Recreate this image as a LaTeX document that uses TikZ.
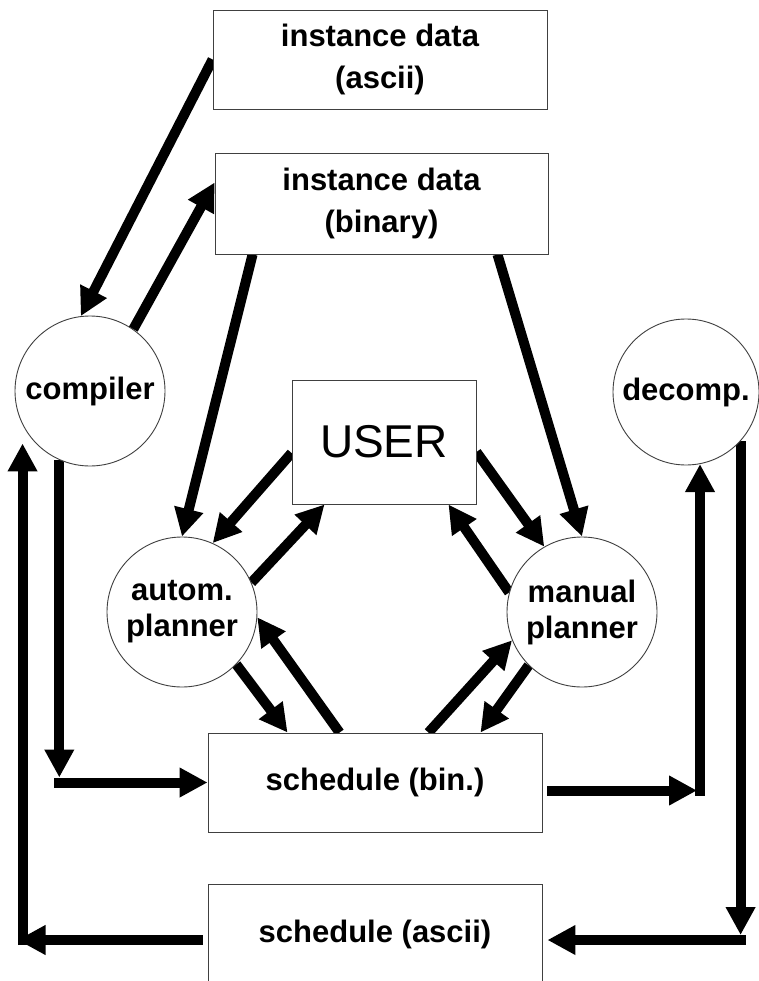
\documentclass[tikz,border=0pt]{standalone}
\usepackage{fontspec}
\setmainfont{Liberation Sans}
\usetikzlibrary{arrows.meta,calc}
\pgfdeclarelayer{bg}
\pgfsetlayers{bg,main}
\begin{document}
\begin{tikzpicture}[x=1pt,y=-1pt,
  box/.style={draw=black!75, fill=white, line width=0.9pt, rectangle, inner sep=0pt, align=center,
    font=\bfseries\fontsize{31}{42}\selectfont},
  proc/.style={draw=black!75, fill=white, line width=0.9pt, circle, inner sep=0pt, align=center,
    font=\bfseries\fontsize{31}{36}\selectfont},
  arr/.style={line width=10pt, -{Triangle[length=28pt,width=28pt]}}]
\useasboundingbox (0,0) rectangle (758,981);
% nodes
\node[box, minimum width=334pt, minimum height=99pt] (ascii) at (380,59.5) {instance data\\(ascii)};
\node[box, minimum width=333pt, minimum height=101pt] (bin) at (381.5,203.5) {instance data\\(binary)};
\node[box, minimum width=184pt, minimum height=124pt, font=\fontsize{46}{50}\selectfont] (user) at (384,442) {USER};
\node[box, minimum width=334pt, minimum height=99pt] (sbin) at (375,782.5) {schedule (bin.)};
\node[box, minimum width=334pt, minimum height=100pt] (sasc) at (375,934) {schedule (ascii)};
\node[proc, minimum size=150pt] (comp) at (90,391) {compiler};
\node[proc, minimum size=146pt] (decomp) at (686,392) {decomp.};
\node[proc, minimum size=150pt] (autom) at (182,612) {autom.\\planner};
\node[proc, minimum size=150pt] (manual) at (582,612) {manual\\planner};
% corner coordinates
\coordinate (c1) at (comp.246 |- sbin.west);
\coordinate (c2) at ($(decomp.-79 |- sbin.east)+(0,8)$);
\coordinate (c3) at ($(decomp.-42 |- sasc.east)+(0,6)$);
\coordinate (c4) at ($(comp.west |- sasc.west)+(8,6)$);
\begin{pgfonlayer}{bg}
\draw[arr] (ascii.west) -- (comp.97);
\draw[arr] (comp.55) -- ($(bin.west)+(0,-21)$);
\draw[arr] ($(bin.south west)+(38,0)$) -- (autom.north);
\draw[arr] ($(bin.south east)+(-51,0)$) -- (manual.north);
\draw[arr] ($(user.west)+(0,11)$) -- (autom.66);
\draw[arr] (autom.23) -- ($(user.south west)+(33,0)$);
\draw[arr] ($(user.east)+(0,10)$) -- (manual.120);
\draw[arr] (manual.165) -- ($(user.south east)+(-28,0)$);
\draw[arr] (autom.-44) -- ($(sbin.north west)+(80,0)$);
\draw[arr] ($(sbin.north west)+(132,0)$) -- (autom.-4);
\draw[arr] ($(sbin.north east)+(-114,0)$) -- (manual.202);
\draw[arr] (manual.225) -- ($(sbin.north east)+(-62,0)$);
% compiler -> schedule (bin.)
\draw[arr] (comp.246) -- ($(c1)+(0,-5)$);
\draw[arr] ($(c1)+(-5,0)$) -- (sbin.west);
% schedule (bin.) -> decomp.
\draw[arr] ($(sbin.east)+(5,8)$) -- ($(c2)+(-3,0)$);
\draw[arr] ($(c2)+(0,5)$) -- (decomp.-79);
% decomp. -> schedule (ascii)
\draw[arr] (decomp.-42) -- ($(c3)+(0,-5)$);
\draw[arr] ($(c3)+(5,0)$) -- ($(sasc.east)+(5,6)$);
% schedule (ascii) -> compiler
\draw[arr] ($(sasc.west)+(-5,6)$) -- ($(c4)+(-5,0)$);
\draw[arr] ($(c4)+(0,5)$) -- ($(c4 |- comp.south)+(0,-23)$);
\end{pgfonlayer}
\end{tikzpicture}
\end{document}
